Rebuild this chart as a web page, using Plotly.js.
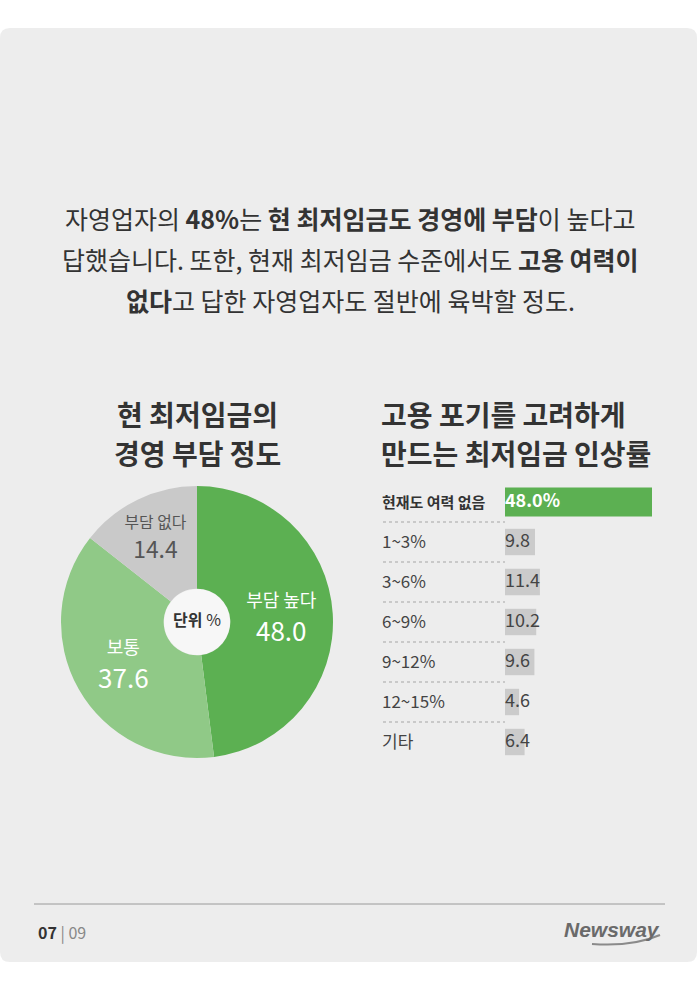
<!DOCTYPE html>
<html>
<head>
<meta charset="utf-8">
<script src="https://cdn.plot.ly/plotly-3.0.1.min.js"></script>
<style>html,body{margin:0;padding:0;background:#fff;}#chart{width:700px;height:990px;}</style>
</head>
<body>
<div id="chart"></div>
<script>
// ---- data ----
const pieLabels = ['부담 높다', '보통', '부담 없다'];
const pieValues = [48.0, 37.6, 14.4];
const pieColors = ['#5cb052', '#90c987', '#c9c9c9'];
const pieTextColors = ['#ffffff', '#ffffff', '#555555'];

const barCats = ['현재도 여력 없음', '1~3%', '3~6%', '6~9%', '9~12%', '12~15%', '기타'];
const barValues = [48.0, 9.8, 11.4, 10.2, 9.6, 4.6, 6.4];

const headerLines = [
  '자영업자의 <b>48%</b>는 <b>현 최저임금도 경영에 부담</b>이 높다고',
  '답했습니다. 또한, 현재 최저임금 수준에서도 <b>고용 여력이</b>',
  '<b>없다</b>고 답한 자영업자도 절반에 육박할 정도.'
];
const pieTitleLines = ['현 최저임금의', '경영 부담 정도'];
const barTitleLines = ['고용 포기를 고려하게', '만드는 최저임금 인상률'];
const pageCurrent = '07';
const pageTotal = '09';
const brand = 'Newsway';

// ---- helpers (pixel -> paper) ----
const W = 700, H = 990;
const px = x => x / W;
const py = y => 1 - y / H;
const FONT = '"Noto Sans CJK KR", "Noto Sans", sans-serif';

const green = '#5cb052';
const grayBar = '#cbcbcb';

// ---- traces ----
const pieTrace = {
  type: 'pie',
  values: pieValues,
  labels: pieLabels,
  sort: false,
  direction: 'clockwise',
  rotation: 0,
  hole: 0.245,
  marker: {colors: pieColors, line: {width: 0}},
  texttemplate: '<span style="font-size:18px">%{label}</span><br>%{value:.1f}',
  textposition: 'inside',
  insidetextorientation: 'horizontal',
  textfont: {family: FONT, size: 26, color: pieTextColors},
  title: {text: '<b>단위</b> %', font: {family: FONT, size: 16, color: '#333'}, position: 'middle center'},
  domain: {x: [px(61), px(333)], y: [py(758), py(486)]},
  showlegend: false,
  hoverinfo: 'none'
};

const barTrace = {
  type: 'bar',
  orientation: 'h',
  y: barCats,
  x: barValues,
  xaxis: 'x', yaxis: 'y',
  width: barCats.map((c, i) => i === 0 ? 0.72 : 0.66),
  marker: {color: barCats.map((c, i) => i === 0 ? green : grayBar), line: {width: 0}},
  showlegend: false,
  hoverinfo: 'none'
};

const barText = {
  type: 'scatter',
  mode: 'text',
  x: barCats.map(() => 0),
  y: barCats,
  xaxis: 'x', yaxis: 'y',
  text: barValues.map((v, i) => i === 0 ? '<b>' + v.toFixed(1) + '%</b>' : v.toFixed(1)),
  textposition: 'middle right',
  textfont: {
    family: FONT,
    size: barCats.map((c, i) => 18),
    color: barCats.map((c, i) => i === 0 ? '#ffffff' : '#444444')
  },
  cliponaxis: false,
  showlegend: false,
  hoverinfo: 'none'
};

// ---- shapes ----
function roundRectPath(l, t, r, b, rad) {
  const rx = rad, ry = rad;
  return 'M ' + px(l + rx) + ' ' + py(t) +
    ' L ' + px(r - rx) + ' ' + py(t) +
    ' Q ' + px(r) + ' ' + py(t) + ' ' + px(r) + ' ' + py(t + ry) +
    ' L ' + px(r) + ' ' + py(b - ry) +
    ' Q ' + px(r) + ' ' + py(b) + ' ' + px(r - rx) + ' ' + py(b) +
    ' L ' + px(l + rx) + ' ' + py(b) +
    ' Q ' + px(l) + ' ' + py(b) + ' ' + px(l) + ' ' + py(b - ry) +
    ' L ' + px(l) + ' ' + py(t + ry) +
    ' Q ' + px(l) + ' ' + py(t) + ' ' + px(l + rx) + ' ' + py(t) + ' Z';
}

const shapes = [
  {type: 'path', xref: 'paper', yref: 'paper', path: roundRectPath(0, 28, 697, 962, 10),
   fillcolor: '#ededed', line: {width: 0}, layer: 'below'},
  // pie hole disc (shows through the transparent hole)
  {type: 'circle', xref: 'paper', yref: 'paper', x0: px(197 - 33), x1: px(197 + 33), y0: py(622 + 33), y1: py(622 - 33),
   fillcolor: '#f7f7f7', line: {width: 0}, layer: 'below'},
  // footer rule
  {type: 'line', xref: 'paper', yref: 'paper', x0: px(34), x1: px(665), y0: py(904), y1: py(904),
   line: {color: '#9a9a9a', width: 1}, layer: 'below'},
  // logo swoosh
  {type: 'path', xref: 'paper', yref: 'paper',
   path: 'M ' + px(592) + ' ' + py(944) + ' Q ' + px(632) + ' ' + py(947) + ' ' + px(660) + ' ' + py(935),
   line: {color: '#8a8a8a', width: 2}, layer: 'below'}
];
// dotted separators between bar rows
for (let i = 0; i < barCats.length - 1; i++) {
  shapes.push({type: 'line', xref: 'paper', yref: 'y', x0: px(383), x1: px(505), y0: i + 0.5, y1: i + 0.5,
    line: {color: '#a5a5a5', width: 1, dash: 'dot'}, layer: 'below'});
}

// ---- annotations ----
const annotations = [];
const headerY = [218, 259, 300];
headerLines.forEach((t, i) => annotations.push({
  xref: 'paper', yref: 'paper', x: 0.5, y: py(headerY[i]), xanchor: 'center', yanchor: 'middle',
  text: t, showarrow: false, font: {family: FONT, size: 25, color: '#333'}
}));
const subTitleY = [414, 453];
pieTitleLines.forEach((t, i) => annotations.push({
  xref: 'paper', yref: 'paper', x: px(197), y: py(subTitleY[i]), xanchor: 'center', yanchor: 'middle',
  text: '<b>' + t + '</b>', showarrow: false, font: {family: FONT, size: 28, color: '#333'}
}));
barTitleLines.forEach((t, i) => annotations.push({
  xref: 'paper', yref: 'paper', x: px(379), y: py(subTitleY[i]), xanchor: 'left', yanchor: 'middle',
  text: '<b>' + t + '</b>', showarrow: false, font: {family: FONT, size: 28, color: '#333'}
}));
annotations.push({
  xref: 'paper', yref: 'paper', x: px(36), y: py(932), xanchor: 'left', yanchor: 'middle',
  text: '<b>' + pageCurrent + '</b><span style="color:#888"> | ' + pageTotal + '</span>',
  showarrow: false, font: {family: FONT, size: 16, color: '#333'}
});
annotations.push({
  xref: 'paper', yref: 'paper', x: px(662), y: py(929), xanchor: 'right', yanchor: 'middle',
  text: '<b><i>' + brand + '</i></b>', showarrow: false,
  font: {family: '"Liberation Sans", Arial, sans-serif', size: 21, color: '#6a6a6a'}
});

const layout = {
  width: W, height: H,
  margin: {l: 0, r: 0, t: 0, b: 0, pad: 0},
  paper_bgcolor: '#ffffff',
  plot_bgcolor: 'rgba(0,0,0,0)',
  showlegend: false,
  xaxis: {domain: [px(505), px(652)], range: [0, 48], visible: false, fixedrange: true, anchor: 'y'},
  yaxis: {
    domain: [py(762), py(482)], type: 'category', range: [6.5, -0.5],
    anchor: 'free', position: px(378), side: 'left', ticklabelposition: 'inside',
    tickvals: barCats,
    ticktext: barCats.map((c, i) => i === 0 ? '<b><span style="font-size:15px;color:#333">' + c + '</span></b>' : c),
    tickfont: {family: FONT, size: 17, color: '#444'},
    ticks: '', showline: false, showgrid: false, zeroline: false, fixedrange: true
  },
  shapes: shapes,
  annotations: annotations,
  font: {family: FONT}
};

Plotly.newPlot('chart', [pieTrace, barTrace, barText], layout, {displayModeBar: false, staticPlot: true});
</script>
</body>
</html>
